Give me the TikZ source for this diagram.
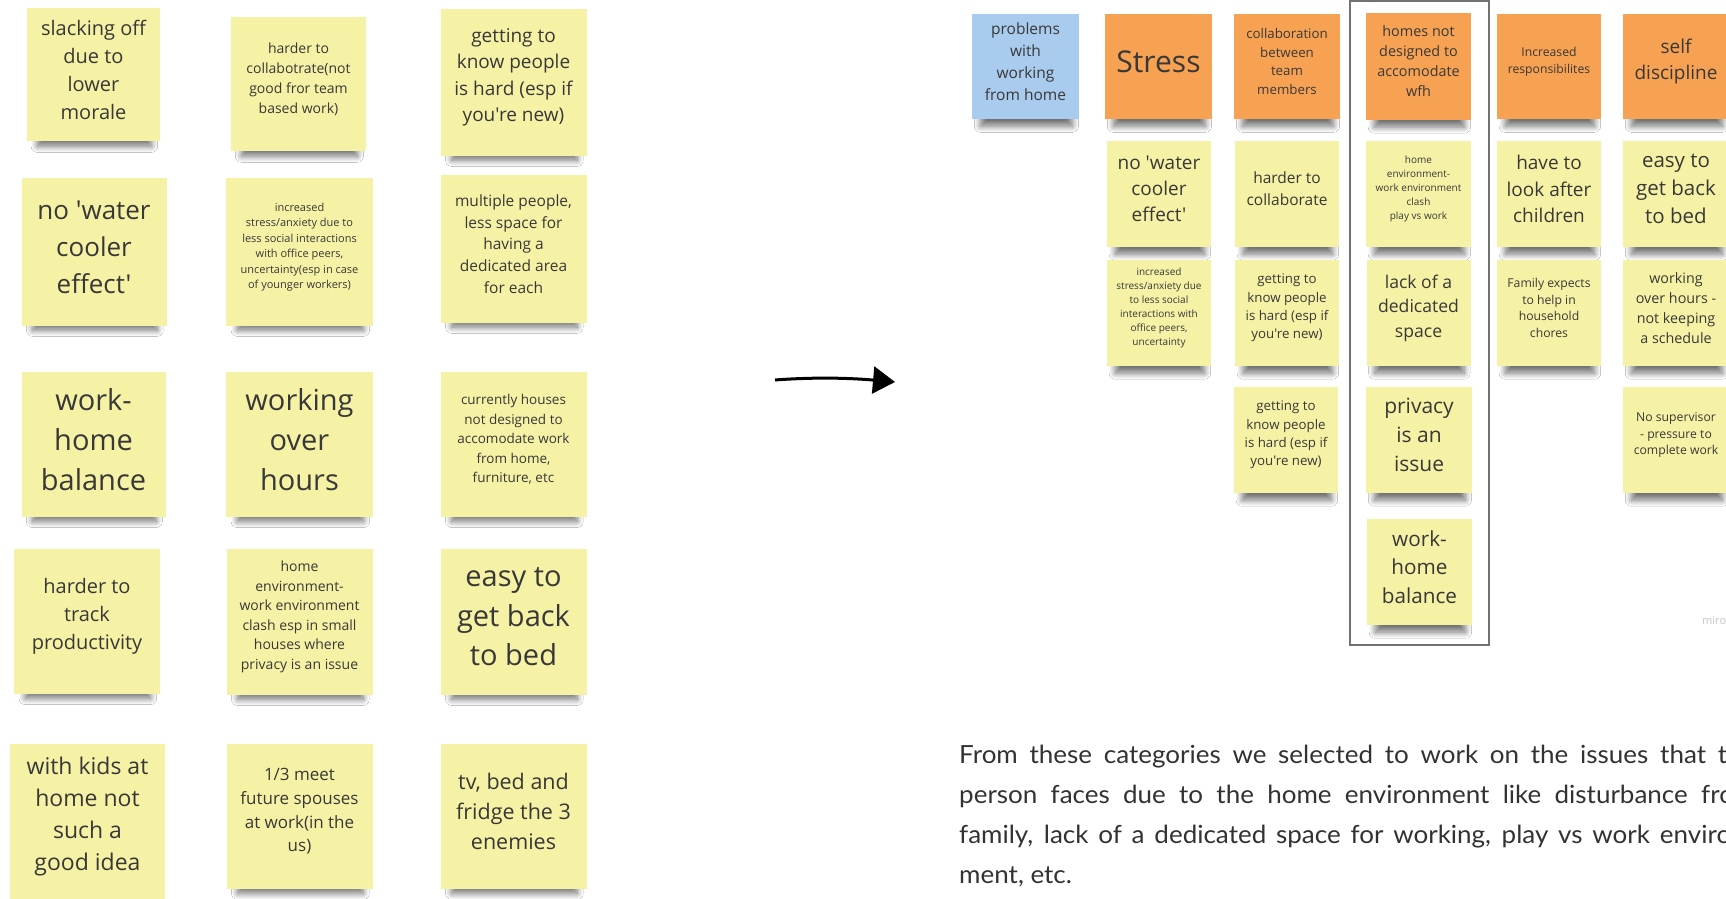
\documentclass[tikz,border=0pt]{standalone}
\usepackage{fontspec}
\setmainfont{Open Sans}[Ligatures=TeXOff]
\newfontfamily\bodyfont{Lato}[FakeStretch=1.04]
\usetikzlibrary{arrows.meta, shadows.blur}

\definecolor{notey}{HTML}{F6F2A5}
\definecolor{noteo}{HTML}{F7A252}
\definecolor{noteb}{HTML}{A9CCEE}
\definecolor{ink}{HTML}{383838}
\definecolor{frame}{HTML}{727272}

\tikzset{
  sticky/.style={rectangle, inner sep=0pt,
    blur shadow={shadow xshift=1pt, shadow yshift=-17pt, shadow scale=0.86,
      shadow blur radius=7pt, shadow blur steps=12, shadow opacity=55}},
  stickytext/.style={align=center, text=ink, inner sep=0pt, yshift=5pt},
  groupbox/.style={draw=frame, line width=2.7pt},
}

\begin{document}
\begin{tikzpicture}[x=1pt, y=-1pt]
    \path[use as bounding box] (0,0) rectangle (1726,899);
    \fill[white] (0,0) rectangle (1726,899);
    \clip (0,0) rectangle (1726,899);

    % notes before sorting
    \foreach \n/\x/\y/\w/\h/\fs/\ls/\txt in {
        a1/93.5/74.5/133/133/20/28/{slacking off\\due to\\lower\\morale},
        a2/298.5/84/135/134/14/20/{harder to\\collabotrate(not\\good fror team\\based work)},
        a3/513.5/82.5/146/147/19/26.5/{getting to\\know people\\is hard (esp if\\you're new)},
        b1/94/252/145/148/26/37/{no 'water\\cooler\\effect'},
        b2/299.5/252/147/148/11/15.5/{increased\\stress/anxiety due to\\less social interactions\\with office peers,\\uncertainty(esp in case\\of younger workers)},
        b3/513.5/249/146/148/15.5/21.7/{multiple people,\\less space for\\having a\\dedicated area\\for each},
        c1/93.5/444.5/144/145/29/40/{work-\\home\\balance},
        c2/299.5/444.5/147/145/29/40/{working\\over\\hours},
        c3/513.5/444.5/146/145/13.5/19.5/{currently houses\\not designed to\\accomodate work\\from home,\\furniture, etc},
        d1/87/621.5/146/145/20/28/{harder to\\track\\productivity},
        d2/299.5/622/146/146/14/19.5/{home\\environment-\\work environment\\clash esp in small\\houses where\\privacy is an issue},
        d3/513.5/622/146/146/29/39.5/{easy to\\get back\\to bed},
        e1/87.5/822/155/156/23/32/{with kids at\\home not\\such a\\good idea},
        e2/299.5/816.5/146/145/17/23.7/{1/3 meet\\future spouses\\at work(in the\\us)},
        e3/513.5/816.5/146/145/21.5/30/{tv, bed and\\fridge the 3\\enemies}}
      \node[sticky, fill=notey, minimum width=\w pt, minimum height=\h pt,
        label={[stickytext, name=\n t, font=\fontsize{\fs}{\ls}\selectfont]center:{\txt}}]
        (\n) at (\x,\y) {};

    % arrow
    \coordinate (from) at (775,380);
    \coordinate (to) at (895,382);
    \draw[line width=3pt, -{Triangle[length=22pt, width=27pt]}]
      (from) .. controls (815,377) and (850,378) .. (to);

    % categories
    \node[sticky, fill=noteb, minimum width=107pt, minimum height=105pt,
      label={[stickytext, name=p0t, font=\fontsize{15.5}{21.8}\selectfont]center:{problems\\with\\working\\from home}}]
      (p0) at (1025.5,66.5) {};
    \foreach \n/\x/\y/\w/\h/\fs/\ls/\txt in {
        h1/1158.5/66.5/107/105/30/40/{Stress},
        h2/1287/66.5/106/105/13.3/18.5/{collaboration\\between\\team\\members},
        h3/1418.5/66.5/105/107/14.4/20/{homes not\\designed to\\accomodate\\wfh},
        h4/1549/66.5/104/105/12.2/17/{Increased\\responsibilites},
        h5/1676/66.5/106/105/19/26/{self\\discipline}}
      \node[sticky, fill=noteo, minimum width=\w pt, minimum height=\h pt,
        label={[stickytext, name=\n t, font=\fontsize{\fs}{\ls}\selectfont]center:{\txt}}]
        (\n) at (\x,\y) {};
    \foreach \n/\x/\y/\w/\h/\fs/\ls/\txt in {
        s1/1159/194/104/106/19/26.3/{no 'water\\cooler\\effect'},
        s2/1287/194/104/106/15.5/21.7/{harder to\\collaborate},
        s3/1418.5/194/105/106/10/14/{home\\environment-\\work environment\\clash\\play vs work},
        s4/1549/194/104/106/19/26.7/{have to\\look after\\children},
        s5/1676/194/106/106/20.5/28.3/{easy to\\get back\\to bed},
        t1/1159/313/104/106/10/14.1/{increased\\stress/anxiety due\\to less social\\interactions with\\office peers,\\uncertainty},
        t2/1287/313/104/106/13.3/18.3/{getting to\\know people\\is hard (esp if\\you're new)},
        t3/1418.5/313/104/106/17.6/24.6/{lack of a\\dedicated\\space},
        t4/1549/313/104/106/12.2/16.7/{Family expects\\to help in\\household\\chores},
        t5/1676/313/106/106/14.3/19.8/{working\\over hours -\\not keeping\\a schedule},
        u2/1286/440/104/106/13.3/18.3/{getting to\\know people\\is hard (esp if\\you're new)},
        u3/1419/440/106/106/21/28.7/{privacy\\is an\\issue},
        u5/1676/440/106/106/12.2/16.7/{No supervisor\\- pressure to\\complete work},
        v3/1419.5/572/105/106/20.7/28.3/{work-\\home\\balance}}
      \node[sticky, fill=notey, minimum width=\w pt, minimum height=\h pt,
        label={[stickytext, name=\n t, font=\fontsize{\fs}{\ls}\selectfont]center:{\txt}}]
        (\n) at (\x,\y) {};
    \draw[groupbox] (1350,1) rectangle (1489,645);
    \node[anchor=base west, inner sep=0pt, text=gray!45,
      font=\fontsize{11}{13}\selectfont] (miro) at (1702,624) {miro};

    % summary text
    \node[anchor=base west, inner sep=0pt, text=ink!90!black,
      font=\bodyfont\fontsize{25}{40}\selectfont] (para) at (959,763)
      {\parbox[t]{796pt}{From these categories we selected to work on the issues that the\linebreak
       person faces due to the home environment like disturbance from\linebreak
       family, lack of a dedicated space for working, play vs work environ-\linebreak
       ment, etc.}};
\end{tikzpicture}
\end{document}
